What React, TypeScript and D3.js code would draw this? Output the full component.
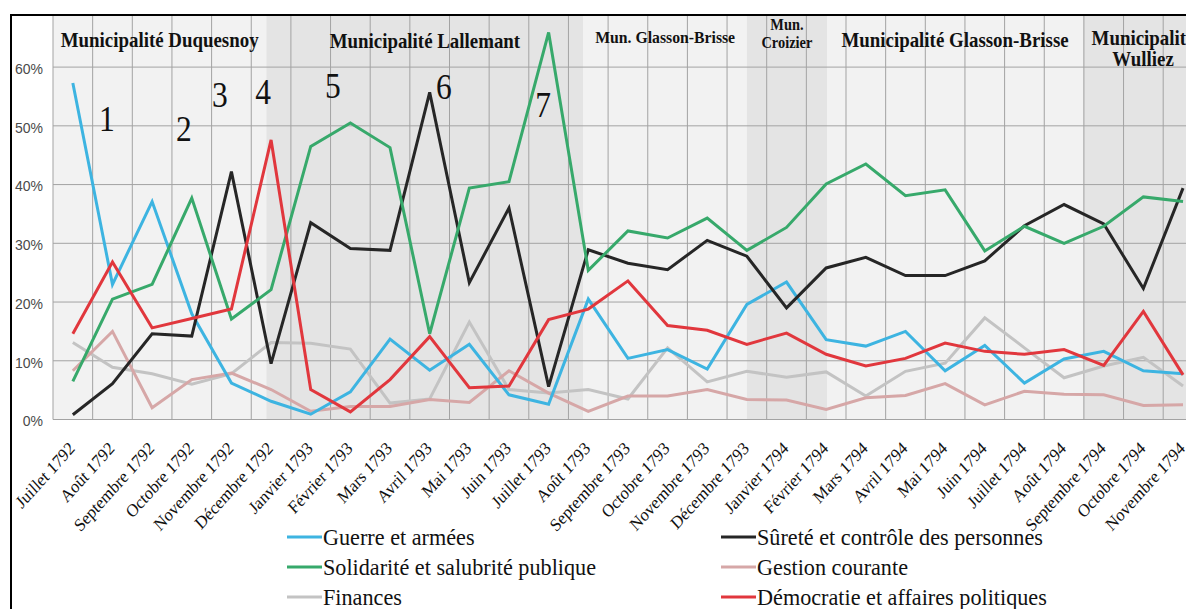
import React from 'react';
import * as d3 from 'd3';

const months = [
  'Juillet 1792', 'Août 1792', 'Septembre 1792', 'Octobre 1792', 'Novembre 1792', 'Décembre 1792',
  'Janvier 1793', 'Février 1793', 'Mars 1793', 'Avril 1793', 'Mai 1793', 'Juin 1793',
  'Juillet 1793', 'Août 1793', 'Septembre 1793', 'Octobre 1793', 'Novembre 1793', 'Décembre 1793',
  'Janvier 1794', 'Février 1794', 'Mars 1794', 'Avril 1794', 'Mai 1794', 'Juin 1794',
  'Juillet 1794', 'Août 1794', 'Septembre 1794', 'Octobre 1794', 'Novembre 1794',
];

// values in % of the month's deliberations
const guerre = [57.3, 23, 37.1, 18, 6.2, 3.1, 0.9, 4.7, 13.7, 8.4, 12.8, 4.2, 2.6, 20.5, 10.4, 11.9, 8.6, 19.6, 23.4, 13.6, 12.5, 15, 8.3, 12.6, 6.2, 10.3, 11.6, 8.3, 7.8];
const surete = [0.8, 6.1, 14.6, 14.2, 42.2, 9.5, 33.5, 29.1, 28.8, 55.7, 23.3, 36, 5.6, 28.9, 26.6, 25.5, 30.5, 27.8, 19, 25.8, 27.6, 24.5, 24.5, 27, 33, 36.6, 33.3, 22.3, 39.4];
const solidarite = [6.5, 20.5, 23, 37.7, 17.1, 22.1, 46.5, 50.5, 46.3, 14.6, 39.4, 40.5, 65.9, 25.4, 32.1, 30.9, 34.3, 28.8, 32.7, 40.1, 43.5, 38.1, 39.1, 28.7, 32.9, 30, 32.9, 37.9, 37.1];
const gestion = [8.3, 15, 2, 6.8, 7.9, 5.1, 1.4, 2.2, 2.2, 3.4, 2.9, 8.3, 4.5, 1.4, 4, 4, 5.1, 3.4, 3.3, 1.7, 3.7, 4.1, 6.1, 2.5, 4.8, 4.3, 4.2, 2.4, 2.5];
const finances = [13.1, 8.9, 7.8, 6, 7.8, 13.1, 13, 12, 2.8, 3.5, 16.6, 5.1, 4.5, 5.1, 3.5, 12.2, 6.4, 8.2, 7.2, 8.1, 4, 8.2, 9.6, 17.3, 12.2, 7.1, 9.1, 10.6, 5.7];
const democratie = [14.6, 26.8, 15.6, 17.2, 18.8, 47.6, 5.1, 1.3, 6.8, 14.1, 5.4, 5.7, 17, 18.8, 23.6, 16, 15.2, 12.8, 14.7, 11.1, 9.1, 10.4, 13, 11.6, 11.1, 11.9, 9.2, 18.4, 7.6];

const seriesNames = [
  'Guerre et armées', 'Sûreté et contrôle des personnes', 'Solidarité et salubrité publique',
  'Gestion courante', 'Finances', 'Démocratie et affaires politiques',
];

// municipal periods, bounds in month units from the start of the axis
const periodLabels = [
  ['Municipalité Duquesnoy'],
  ['Municipalité Lallemant'],
  ['Mun. Glasson-Brisse'],
  ['Mun.', 'Croizier'],
  ['Municipalité Glasson-Brisse'],
  ['Municipalité', 'Wulliez'],
];
const periodBounds = [0, 5.38, 13.38, 17.5, 19.52, 25.98, 29];

// numbered events: position in month units, height in %
const eventLabels = ['1', '2', '3', '4', '5', '6', '7'];
const eventAt = [1.36, 3.3, 4.21, 5.3, 7.06, 9.86, 12.36];
const eventHeight = [49.1, 47.4, 53.2, 53.7, 54.7, 54.5, 51.5];

const yTicks = [0, 10, 20, 30, 40, 50, 60];

const colors = ['#3db4e1', '#262626', '#37a96b', '#d6a7a7', '#c3c3c3', '#e1373d'];
const drawOrder = [4, 3, 0, 1, 2, 5];

const W = 1186;
const H = 609;
const SERIF = '"Liberation Serif", Tinos, "Times New Roman", Times, "DejaVu Serif", serif';
const SANS = '"Liberation Sans", Arial, sans-serif';
const SQ = 0.9; // the serif texts of the original are slightly condensed

const App: React.FC = () => {
  const left = 53;
  const top = 16;
  const bottom = 419.5;
  const bw = 39.65;

  const x = d3.scaleBand<string>().domain(months).range([left, left + months.length * bw]).padding(0);
  const cx = (m: string) => (x(m) as number) + x.bandwidth() / 2;
  const xu = d3.scaleLinear().domain([0, months.length]).range([left, left + months.length * bw]);
  const y = d3.scaleLinear().domain([0, 68.7]).range([bottom, top]);

  const data = [guerre, surete, solidarite, gestion, finances, democratie];
  const line = d3
    .line<number>()
    .x((_, i) => cx(months[i]))
    .y(d => y(d));

  const labelStyle = [
    { size: 21, base: [47] },
    { size: 21, base: [47.5] },
    { size: 17.5, base: [42.5] },
    { size: 16, base: [30, 48] },
    { size: 21, base: [47] },
    { size: 21, base: [45, 66] },
  ];

  const legendRows = [537, 567, 597];

  return (
    <div style={{ position: 'fixed', left: 0, top: 0, width: W, height: H, overflow: 'hidden', background: '#fff' }}>
      <svg width={W} height={H} style={{ display: 'block' }}>
        <rect x={0} y={0} width={W} height={H} fill="#ffffff" />

        {/* period shading */}
        {periodLabels.map((_, i) => (
          <rect
            key={`p${i}`}
            x={xu(periodBounds[i])}
            y={top}
            width={xu(periodBounds[i + 1]) - xu(periodBounds[i])}
            height={bottom - top}
            fill={i % 2 === 1 ? '#e4e4e4' : '#f2f2f2'}
          />
        ))}

        {/* grid */}
        {yTicks.map(t => (
          <line key={`gy${t}`} x1={left} x2={W} y1={y(t)} y2={y(t)} stroke="#a3a3a3" strokeWidth={1} />
        ))}
        {d3.range(months.length + 1).map(k => (
          <line key={`gx${k}`} x1={xu(k)} x2={xu(k)} y1={top} y2={bottom} stroke="#a3a3a3" strokeWidth={1} />
        ))}

        {/* y labels */}
        {yTicks.map(t => (
          <text
            key={`ty${t}`}
            x={43}
            y={y(t) + 2}
            dy="0.35em"
            textAnchor="end"
            fontFamily={SANS}
            fontSize={14}
            fill="#4a4a4a"
          >
            {t}%
          </text>
        ))}

        {/* period titles */}
        {periodLabels.map((lines, i) => {
          const mid = (xu(periodBounds[i]) + xu(periodBounds[i + 1])) / 2;
          return lines.map((s, j) => (
            <text
              key={`pl${i}-${j}`}
              transform={`translate(${mid},${labelStyle[i].base[j]}) scale(${SQ},1)`}
              textAnchor="middle"
              style={{ fontFamily: SERIF }}
              fontWeight="bold"
              fontSize={labelStyle[i].size}
              fill="#111"
            >
              {s}
            </text>
          ));
        })}

        {/* series */}
        {drawOrder.map(i => (
          <path
            key={`s${i}`}
            d={line(data[i]) || ''}
            fill="none"
            stroke={colors[i]}
            strokeWidth={3}
            strokeLinejoin="miter"
          />
        ))}

        {/* event numbers */}
        {eventLabels.map((s, i) => (
          <text
            key={`e${i}`}
            transform={`translate(${xu(eventAt[i])},${y(eventHeight[i])}) scale(${SQ},1)`}
            textAnchor="middle"
            style={{ fontFamily: SERIF }}
            fontSize={35}
            fill="#111"
          >
            {s}
          </text>
        ))}

        {/* x labels */}
        {months.map(m => (
          <text
            key={`tx${m}`}
            transform={`translate(${cx(m) + 3},${bottom + 30}) scale(${SQ},1) rotate(-45)`}
            textAnchor="end"
            style={{ fontFamily: SERIF }}
            fontSize={18}
            fill="#111"
          >
            {m}
          </text>
        ))}

        {/* legend */}
        {seriesNames.map((name, i) => {
          const col = i % 2;
          const row = Math.floor(i / 2);
          const lx = col === 0 ? 287 : 721;
          const ly = legendRows[row];
          return (
            <g key={`lg${i}`}>
              <line x1={lx} x2={lx + 35} y1={ly} y2={ly} stroke={colors[i]} strokeWidth={3} />
              <text
                transform={`translate(${lx + 36},${ly}) scale(0.925,1)`}
                dy="0.33em"
                style={{ fontFamily: SERIF }}
                fontSize={24}
                fill="#111"
              >
                {name}
              </text>
            </g>
          );
        })}

        {/* outer frame */}
        <rect x={11} y={15} width={W + 50} height={H + 50} fill="none" stroke="#000" strokeWidth={2} />
      </svg>
    </div>
  );
};

export default App;
